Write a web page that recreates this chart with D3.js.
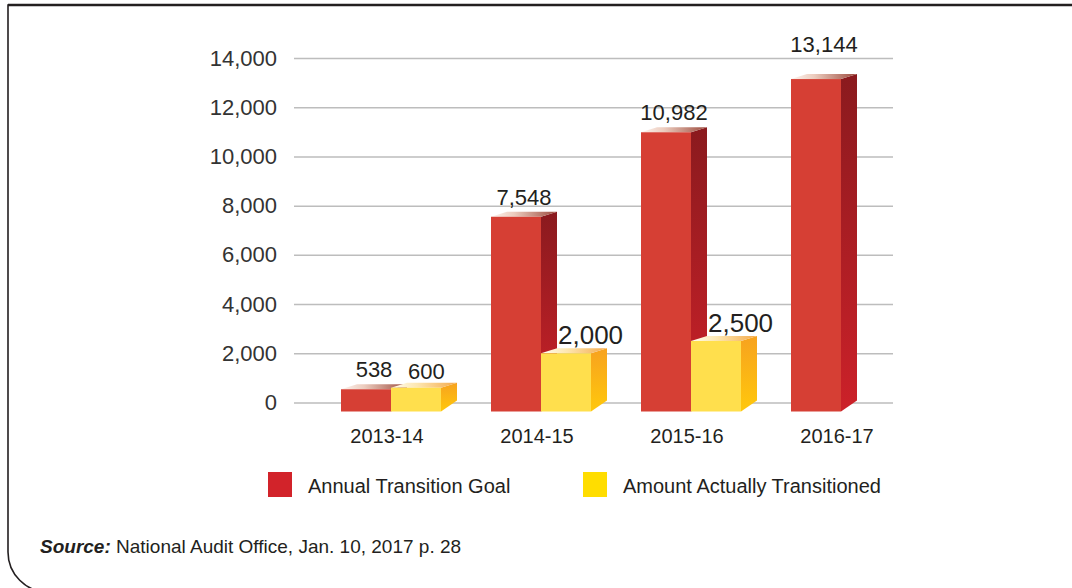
<!DOCTYPE html>
<html>
<head>
<meta charset="utf-8">
<script src="https://cdn.jsdelivr.net/npm/d3@7"></script>
<style>
  body { margin: 0; background: #fff; }
  svg { display: block; font-family: "Liberation Sans", Arial, sans-serif; }
</style>
</head>
<body>
<div id="chart"></div>
<script>
const categories = ["2013-14", "2014-15", "2015-16", "2016-17"]
const goal = [538, 7548, 10982, 13144]
const actual = [600, 2000, 2500, null]
const seriesNames = ["Annual Transition Goal", "Amount Actually Transitioned"]
const yTicks = [0, 2000, 4000, 6000, 8000, 10000, 12000, 14000]

const width = 1072
const height = 588

const svg = d3.select("#chart")
  .append("svg")
  .attr("width", width)
  .attr("height", height)

const defs = svg.append("defs")

function grad(id, stops, vertical) {
  const g = defs.append("linearGradient")
    .attr("id", id)
    .attr("x1", 0).attr("y1", 0)
    .attr("x2", vertical ? 0 : 1).attr("y2", vertical ? 1 : 0)
  stops.forEach(([o, c]) => g.append("stop").attr("offset", o).attr("stop-color", c))
}
grad("redTop", [[0, "#fdf3ee"], [0.35, "#ecccbe"], [1, "#9c4a3d"]], false)
grad("redSide", [[0, "#8a1a1e"], [1, "#cc2129"]], true)
grad("yelTop", [[0, "#fffdf0"], [0.4, "#fde6b0"], [1, "#f4a94a"]], false)
grad("yelSide", [[0, "#f7a21f"], [1, "#ffc80c"]], true)

const palette = [
  { front: "#d63f34", top: "url(#redTop)", side: "url(#redSide)", legend: "#d2232a" },
  { front: "#ffdf4d", top: "url(#yelTop)", side: "url(#yelSide)", legend: "#ffdd00" }
]

// frame
svg.append("path")
  .attr("d", "M1072,5 H8 V552 A40,40 0 0 0 48,592")
  .attr("fill", "none")
  .attr("stroke", "#231f20")
  .attr("stroke-width", 1.6)
svg.append("line")
  .attr("x1", 8).attr("x2", 1072).attr("y1", 5).attr("y2", 5)
  .attr("stroke", "#231f20").attr("stroke-width", 2.4)

const y = d3.scaleLinear()
  .domain([0, 14000])
  .range([402.5, 58])

const x0 = d3.scaleBand()
  .domain(categories)
  .range([341, 891])
  .paddingInner(1 / 3)
  .paddingOuter(0)

const x1 = d3.scaleBand()
  .domain([0, 1])
  .range([0, x0.bandwidth()])

const gridLeft = 294, gridRight = 893

// y axis with gridlines
const yAxis = svg.append("g")
  .attr("transform", `translate(${gridLeft},0)`)
  .call(d3.axisLeft(y)
    .tickValues(yTicks)
    .tickSize(-(gridRight - gridLeft))
    .tickPadding(17)
    .tickFormat(d3.format(",")))
yAxis.select(".domain").remove()
yAxis.selectAll(".tick line")
  .attr("stroke", "#bdbdbd")
  .attr("stroke-width", 1.5)
yAxis.selectAll(".tick text")
  .attr("fill", "#333")
  .style("font-size", "22px")
  .style("font-family", "Liberation Sans, Arial, sans-serif")

// bars
const depth = 16, topRise = 5, baseRise = 11, floor = 9
const bars = []
categories.forEach((c, i) => {
  [goal[i], actual[i]].forEach((v, s) => {
    if (v != null) bars.push({ cat: c, s: s, value: v })
  })
})

const barG = svg.append("g")
const bw = x1.bandwidth()

bars.forEach(d => {
  const xl = x0(d.cat) + x1(d.s)
  const xr = xl + bw
  const yt = y(d.value)
  const yb = y(0) + floor
  const col = palette[d.s]
  const g = barG.append("g")
  // side
  g.append("path")
    .attr("d", `M${xr},${yt} L${xr + depth},${yt - topRise} L${xr + depth},${yb - baseRise} L${xr},${yb} Z`)
    .attr("fill", col.side)
  // top
  g.append("path")
    .attr("d", `M${xl},${yt} L${xl + depth},${yt - topRise} L${xr + depth},${yt - topRise} L${xr},${yt} Z`)
    .attr("fill", col.top)
  // front
  g.append("rect")
    .attr("x", xl).attr("y", yt)
    .attr("width", bw).attr("height", yb - yt)
    .attr("fill", col.front)
})

// label baseline, kept clear of the top gridline
function labelY(d) {
  let b = y(d.value) - (d.s === 0 ? 12 : 9)
  const top = y(yTicks[yTicks.length - 1])
  if (b > top && b - 18 < top) b = top - 6
  return b
}

// value labels
svg.append("g").selectAll("text")
  .data(bars)
  .join("text")
  .attr("x", d => d.s === 0 ? x0(d.cat) + x1(d.s) + (bw + depth) / 2 : x0(d.cat) + x1(d.s) + 17)
  .attr("y", labelY)
  .attr("text-anchor", d => d.s === 0 ? "middle" : "start")
  .attr("fill", "#231f20")
  .style("font-size", d => d.s === 1 && d.value >= 1000 ? "26px" : "22px")
  .text(d => d3.format(",")(d.value))

// category labels
svg.append("g").selectAll("text")
  .data(categories)
  .join("text")
  .attr("x", d => x0(d) + 46)
  .attr("y", 443)
  .attr("text-anchor", "middle")
  .attr("fill", "#231f20")
  .style("font-size", "20px")
  .text(d => d)

// legend
const legendX = [268, 583]
const legend = svg.append("g").selectAll("g")
  .data(seriesNames)
  .join("g")
  .attr("transform", (d, i) => `translate(${legendX[i]},472)`)
legend.append("rect")
  .attr("width", 24).attr("height", 25)
  .attr("fill", (d, i) => palette[i].legend)
legend.append("text")
  .attr("x", 40).attr("y", 21)
  .attr("fill", "#231f20")
  .style("font-size", "20px")
  .text(d => d)

// source
const src = svg.append("text")
  .attr("x", 40).attr("y", 553)
  .attr("fill", "#231f20")
  .style("font-size", "19px")
src.append("tspan")
  .style("font-weight", "bold").style("font-style", "italic")
  .text("Source:")
src.append("tspan")
  .text(" National Audit Office, Jan. 10, 2017 p. 28")
</script>
</body>
</html>
